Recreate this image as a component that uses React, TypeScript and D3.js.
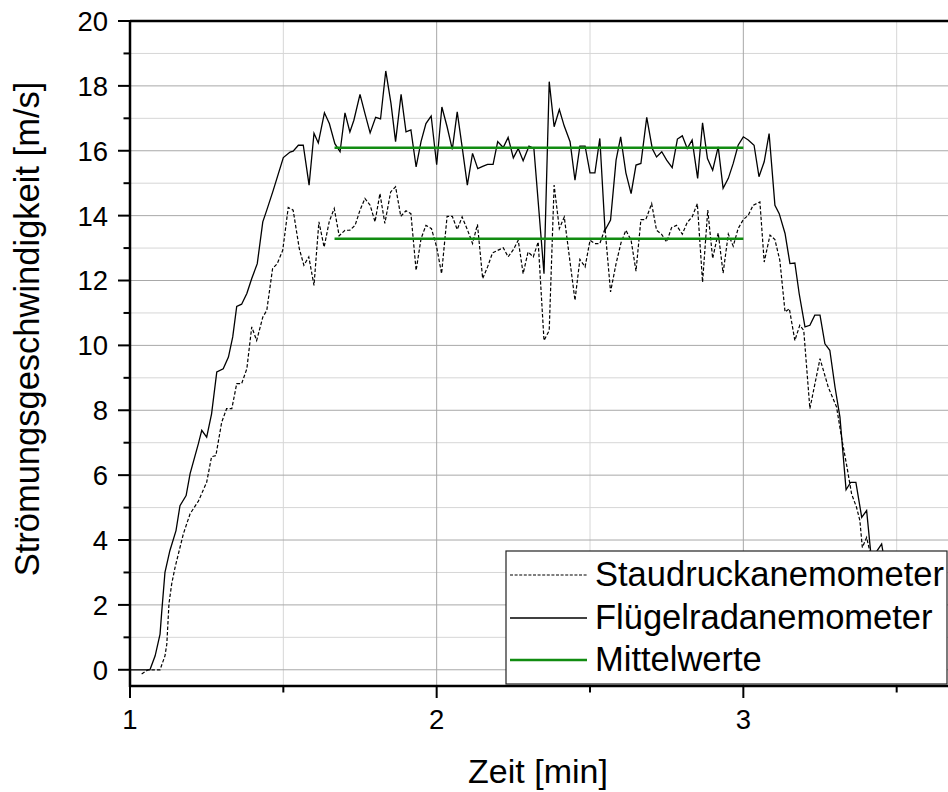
import React from "react";
import * as d3 from "d3";

// ---- Data (time in min, speed in m/s) ----
const flugTime = [1.000,1.065,1.082,1.098,1.103,1.114,1.130,1.150,1.163,1.183,1.196,1.223,1.234,1.250,1.266,1.283,1.304,1.321,1.335,1.348,1.364,1.381,1.397,1.415,1.433,1.446,1.467,1.500,1.522,1.532,1.549,1.565,1.584,1.600,1.614,1.634,1.650,1.668,1.685,1.701,1.717,1.730,1.750,1.766,1.783,1.801,1.817,1.834,1.851,1.866,1.884,1.900,1.916,1.933,1.949,1.965,1.982,2.000,2.017,2.034,2.051,2.067,2.083,2.100,2.117,2.134,2.150,2.166,2.184,2.199,2.217,2.233,2.250,2.266,2.282,2.301,2.317,2.350,2.367,2.383,2.400,2.416,2.435,2.451,2.467,2.484,2.500,2.516,2.532,2.549,2.567,2.585,2.600,2.617,2.634,2.650,2.666,2.685,2.703,2.717,2.734,2.750,2.768,2.785,2.801,2.817,2.833,2.851,2.867,2.883,2.900,2.918,2.934,2.951,2.967,2.983,3.000,3.016,3.035,3.051,3.068,3.084,3.103,3.117,3.136,3.152,3.168,3.182,3.201,3.217,3.233,3.250,3.266,3.282,3.299,3.315,3.335,3.350,3.367,3.386,3.402,3.415,3.432,3.451,3.468,3.494,3.527,3.560,3.592];
const flugValues = [0,0,0.43,1.10,1.73,3.00,3.67,4.29,5.06,5.37,6.05,6.97,7.38,7.17,7.89,9.18,9.28,9.64,10.26,11.20,11.27,11.60,12.06,12.52,13.81,14.17,14.78,15.79,15.96,15.99,16.17,16.17,14.94,16.54,16.24,17.17,16.84,16.22,15.97,17.17,16.58,16.94,17.74,17.15,16.55,17.03,16.98,18.46,17.46,16.28,17.74,16.58,16.64,15.50,16.28,16.84,17.07,15.57,17.35,16.74,16.04,17.20,16.12,14.94,15.92,15.45,15.52,15.58,15.58,16.28,16.10,16.41,15.78,16.07,15.69,16.14,16.07,12.21,18.13,16.74,17.27,16.76,16.28,15.09,16.14,16.14,15.32,15.32,16.38,13.55,13.86,15.71,16.43,15.32,14.68,15.56,15.61,17.03,16.07,15.81,15.97,15.71,15.48,16.36,16.46,16.07,16.33,15.15,16.86,15.76,15.40,16.12,14.84,15.15,15.61,16.17,16.43,16.33,16.17,15.20,15.66,16.53,14.32,14.06,13.45,12.52,12.54,11.60,10.57,10.62,10.93,10.93,10.05,9.85,8.71,7.79,5.55,5.78,5.78,4.70,4.91,3.65,3.61,3.88,2.9,1.8,0.9,0.3,0.05];

const stauTime = [1.038,1.059,1.098,1.114,1.120,1.127,1.136,1.147,1.163,1.174,1.196,1.223,1.250,1.266,1.280,1.299,1.315,1.332,1.348,1.364,1.381,1.397,1.413,1.433,1.446,1.465,1.480,1.498,1.516,1.532,1.552,1.567,1.583,1.600,1.616,1.633,1.650,1.666,1.682,1.701,1.717,1.734,1.750,1.766,1.783,1.799,1.815,1.831,1.850,1.866,1.883,1.900,1.916,1.933,1.949,1.965,1.983,2.000,2.016,2.034,2.051,2.067,2.083,2.100,2.117,2.133,2.150,2.166,2.182,2.199,2.217,2.233,2.250,2.266,2.282,2.298,2.315,2.331,2.350,2.367,2.383,2.400,2.416,2.451,2.467,2.484,2.500,2.516,2.532,2.549,2.567,2.585,2.601,2.617,2.634,2.650,2.666,2.682,2.701,2.717,2.733,2.750,2.766,2.782,2.801,2.817,2.833,2.850,2.867,2.884,2.900,2.918,2.934,2.951,2.967,2.983,3.000,3.016,3.032,3.054,3.068,3.087,3.103,3.119,3.136,3.150,3.168,3.184,3.197,3.217,3.250,3.277,3.304,3.320,3.337,3.353,3.369,3.380,3.388,3.402,3.412,3.445,3.477,3.510,3.550];
const stauValues = [-0.13,0,0,0.43,0.79,2.03,2.65,3.16,3.77,4.19,4.81,5.20,5.78,6.57,6.60,7.63,8.05,8.05,8.82,8.82,9.28,10.57,10.15,10.87,11.08,12.37,12.52,12.93,14.25,14.17,12.98,12.47,12.73,11.85,13.81,13.03,13.83,14.22,13.38,13.55,13.55,13.70,14.17,14.53,14.32,13.81,14.68,13.76,14.73,14.89,13.98,14.15,14.06,12.31,13.29,13.70,13.60,13.03,12.21,13.98,13.98,13.57,13.96,13.57,13.14,13.73,12.06,12.42,12.85,12.93,13.01,12.73,12.95,13.24,12.21,12.88,12.73,13.19,10.15,10.46,14.94,13.60,13.96,11.39,12.65,12.42,13.24,13.14,13.14,13.60,11.65,12.52,13.16,13.55,13.24,12.29,13.88,13.88,14.37,13.55,13.43,13.19,13.63,13.70,13.43,13.79,13.96,14.37,11.95,14.17,12.68,13.47,12.23,13.43,13.06,13.60,13.88,14.01,14.32,14.42,12.57,13.40,13.26,12.62,11.03,11.13,10.15,10.62,10.46,8.05,9.59,8.71,8.10,7.17,6.30,5.42,5.01,4.60,3.77,4.08,3.67,2.6,1.5,0.7,0.2];

const meanRange = [1.667, 3.0];
const meanStau = 13.29;
const meanFlug = 16.09;

const xMajorTicks = [1, 2, 3];
const xMinorTicks = [1.5, 2.5, 3.5];
const yMajorTicks = [0, 2, 4, 6, 8, 10, 12, 14, 16, 18, 20];
const yMinorTicks = [1, 3, 5, 7, 9, 11, 13, 15, 17, 19];

const legendLabels = ["Staudruckanemometer", "Flügelradanemometer", "Mittelwerte"];

const FONT = "'Liberation Sans', Arial, Helvetica, sans-serif";

export default function App() {
  const W = 948, H = 792;
  const left = 130, top = 21, bottom = 686;
  const x = d3.scaleLinear().domain([1, 4]).range([left, left + 3 * 306.67]);
  const y = d3.scaleLinear().domain([-0.5, 20]).range([bottom, top]);

  const line = d3.line<[number, number]>().x(d => x(d[0])).y(d => y(d[1]));
  const flugPts: [number, number][] = flugTime.map((t, i) => [t, flugValues[i]]);
  const stauPts: [number, number][] = stauTime.map((t, i) => [t, stauValues[i]]);

  const green = "#118c11";
  const legX = 506, legY = 551, legW = 441, legH = 133;
  const rowY = [575, 618, 660];

  return (
    <svg width={W} height={H} style={{ position: "absolute", left: 0, top: 0, background: "#fff" }} fontFamily={FONT}>
      <defs>
        <clipPath id="plotClip">
          <rect x={left} y={top} width={W - left} height={bottom - top} />
        </clipPath>
      </defs>
      {/* grid */}
      {yMinorTicks.map(v => (
        <line key={"gym" + v} x1={left} x2={W} y1={y(v)} y2={y(v)} stroke="#d6d6d6" strokeWidth={1} />
      ))}
      {xMinorTicks.map(v => (
        <line key={"gxm" + v} x1={x(v)} x2={x(v)} y1={top} y2={bottom} stroke="#d6d6d6" strokeWidth={1} />
      ))}
      {yMajorTicks.map(v => (
        <line key={"gy" + v} x1={left} x2={W} y1={y(v)} y2={y(v)} stroke="#a8a8a8" strokeWidth={1} />
      ))}
      {xMajorTicks.filter(v => v > 1).map(v => (
        <line key={"gx" + v} x1={x(v)} x2={x(v)} y1={top} y2={bottom} stroke="#a8a8a8" strokeWidth={1} />
      ))}

      {/* data */}
      <g clipPath="url(#plotClip)" fill="none">
        <path d={line(stauPts) || ""} stroke="#000" strokeWidth={1.2} strokeDasharray="3.5,2" />
        <path d={line(flugPts) || ""} stroke="#000" strokeWidth={1.3} />
        <line x1={x(meanRange[0])} x2={x(meanRange[1])} y1={y(meanStau)} y2={y(meanStau)} stroke={green} strokeWidth={2.5} />
        <line x1={x(meanRange[0])} x2={x(meanRange[1])} y1={y(meanFlug)} y2={y(meanFlug)} stroke={green} strokeWidth={2.5} />
      </g>

      {/* axes frame */}
      <line x1={left} x2={W} y1={top} y2={top} stroke="#000" strokeWidth={2.5} />
      <line x1={left} x2={W} y1={bottom} y2={bottom} stroke="#000" strokeWidth={2.5} />
      <line x1={left} x2={left} y1={top - 1} y2={bottom + 1} stroke="#000" strokeWidth={2.5} />

      {/* y ticks */}
      {yMajorTicks.map(v => (
        <g key={"yt" + v}>
          <line x1={left - 12} x2={left} y1={y(v)} y2={y(v)} stroke="#000" strokeWidth={2} />
          <text x={108} y={y(v)} dy="0.36em" textAnchor="end" fontSize={27.5} fill="#000">{v}</text>
        </g>
      ))}
      {yMinorTicks.map(v => (
        <line key={"ytm" + v} x1={left - 6.5} x2={left} y1={y(v)} y2={y(v)} stroke="#000" strokeWidth={2} />
      ))}

      {/* x ticks */}
      {xMajorTicks.map(v => (
        <g key={"xt" + v}>
          <line x1={x(v)} x2={x(v)} y1={bottom} y2={bottom + 12} stroke="#000" strokeWidth={2} />
          <text x={x(v)} y={729} textAnchor="middle" fontSize={27.5} fill="#000">{v}</text>
        </g>
      ))}
      {xMinorTicks.map(v => (
        <line key={"xtm" + v} x1={x(v)} x2={x(v)} y1={bottom} y2={bottom + 6.5} stroke="#000" strokeWidth={2} />
      ))}

      {/* axis titles */}
      <text x={538} y={783} textAnchor="middle" fontSize={34} fill="#000">Zeit [min]</text>
      <text transform="translate(39,329) rotate(-90)" textAnchor="middle" fontSize={34.5} fill="#000">Strömungsgeschwindigkeit [m/s]</text>

      {/* legend */}
      <rect x={legX} y={legY} width={legW} height={legH} fill="#fff" stroke="#222" strokeWidth={1.2} />
      <line x1={510} x2={587} y1={rowY[0]} y2={rowY[0]} stroke="#000" strokeWidth={1.2} strokeDasharray="3,1.6" />
      <line x1={510} x2={587} y1={rowY[1]} y2={rowY[1]} stroke="#000" strokeWidth={1.3} />
      <line x1={510} x2={587} y1={rowY[2]} y2={rowY[2]} stroke={green} strokeWidth={2.5} />
      {legendLabels.map((l, i) => (
        <text key={l} x={595} y={rowY[i] + 11} fontSize={34.5} fill="#000">{l}</text>
      ))}
    </svg>
  );
}
